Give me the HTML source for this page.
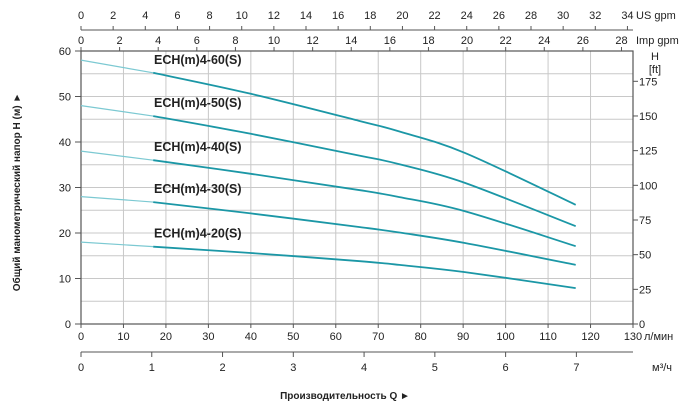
<!DOCTYPE html>
<html><head><meta charset="utf-8"><style>
body{margin:0;background:#fff}
svg{display:block;font-family:"Liberation Sans",sans-serif}
</style></head><body>
<svg id="c" width="700" height="410" viewBox="0 0 700 410"></svg>
<script>
const flows=[0,17,40,65.7,75,90.4,116.5];
const series=["ECH(m)4-60(S)","ECH(m)4-50(S)","ECH(m)4-40(S)","ECH(m)4-30(S)","ECH(m)4-20(S)"];
const heads60=[58,55.2,50.6,44.6,42.3,37.6,26.2];
const heads50=[48,45.7,41.8,37.0,35.1,31.0,21.5];
const heads40=[38,36,33.0,29.4,27.9,24.8,17.1];
const heads30=[28,26.8,24.3,21.3,20.1,17.8,13];
const heads20=[18,17,15.6,13.8,13.0,11.4,7.9];
const allHeads=[heads60,heads50,heads40,heads30,heads20];
const lpmTicks=[0,10,20,30,40,50,60,70,80,90,100,110,120,130];
const m3Ticks=[0,1,2,3,4,5,6,7];
const usTicks=[0,2,4,6,8,10,12,14,16,18,20,22,24,26,28,30,32,34];
const impTicks=[0,2,4,6,8,10,12,14,16,18,20,22,24,26,28];
const hTicks=[0,10,20,30,40,50,60];
const ftTicks=[0,25,50,75,100,125,150,175];

const X0=81,X1=633,Y0=324,Y1=51;
const xs=q=>X0+q*(X1-X0)/130;
const ys=h=>Y0-h*(Y0-Y1)/60;
const svg=document.getElementById('c');
const NS='http://www.w3.org/2000/svg';
function mk(t,a,txt){const e=document.createElementNS(NS,t);for(const k in a)e.setAttribute(k,a[k]);if(txt!=null)e.textContent=txt;svg.appendChild(e);return e;}
function txt(x,y,s,anchor,size,name,weight){const e=mk('text',{x:x,y:y,'text-anchor':anchor||'middle','font-size':size||11,fill:'#222','font-weight':weight||'normal'},s);

return e;}

for(let h=0;h<=60;h+=5){const l=mk('line',{x1:X0,x2:X1,y1:ys(h),y2:ys(h),stroke:'#c8c8c8','stroke-width':1});

}
lpmTicks.forEach(q=>{const l=mk('line',{x1:xs(q),x2:xs(q),y1:Y1,y2:Y0,stroke:'#c8c8c8','stroke-width':1});

});
const fr=mk('rect',{x:X0,y:Y1,width:X1-X0,height:Y0-Y1,fill:'none',stroke:'#555','stroke-width':1.2});



hTicks.forEach(h=>{mk('line',{x1:X0-6,x2:X0,y1:ys(h),y2:ys(h),stroke:'#555'});txt(X0-10,ys(h)+4,h,'end',11,'y-tick-label');});
ftTicks.forEach(f=>{const y=ys(f*0.3048);mk('line',{x1:X1,x2:X1+5,y1:y,y2:y,stroke:'#555'});txt(X1+6,y+4,f,'start',11,'ft-tick-label');});
txt(655,60,'H','middle',11,'ft-axis-title');txt(655,73,'[ft]','middle',11,'ft-axis-unit');
lpmTicks.forEach(q=>{mk('line',{x1:xs(q),x2:xs(q),y1:Y0,y2:Y0+4,stroke:'#555'});txt(xs(q),Y0+16,q,'middle',11,'lpm-tick-label');});
txt(644,340,'л/мин','start',11,'lpm-unit');
mk('line',{x1:X0,x2:X1,y1:352,y2:352,stroke:'#555'});
m3Ticks.forEach(m=>{const x=xs(m*1000/60);mk('line',{x1:x,x2:x,y1:352,y2:357,stroke:'#555'});txt(x,371,m,'middle',11,'m3h-tick-label');});
txt(652,371,'м³/ч','start',11,'m3h-unit');
mk('line',{x1:X0,x2:X1,y1:30,y2:30,stroke:'#555'});
usTicks.forEach(g=>{const x=xs(g*3.785);mk('line',{x1:x,x2:x,y1:26,y2:30,stroke:'#555'});txt(x,19,g,'middle',11,'usgpm-tick-label');});
txt(636,19,'US gpm','start',11,'usgpm-unit');
impTicks.forEach(g=>{const x=xs(g*4.546);mk('line',{x1:x,x2:x,y1:Y1-4,y2:Y1,stroke:'#555'});txt(x,44,g,'middle',11,'impgpm-tick-label');});
txt(636,44,'Imp gpm','start',11,'impgpm-unit');

function smooth(pts){let d='M'+pts[0][0].toFixed(1)+','+pts[0][1].toFixed(1);
 for(let i=0;i<pts.length-1;i++){const p0=pts[Math.max(0,i-1)],p1=pts[i],p2=pts[i+1],p3=pts[Math.min(pts.length-1,i+2)];
  const c1=[p1[0]+(p2[0]-p0[0])/6,p1[1]+(p2[1]-p0[1])/6],c2=[p2[0]-(p3[0]-p1[0])/6,p2[1]-(p3[1]-p1[1])/6];
  d+='C'+c1.map(v=>v.toFixed(1)).join(',')+' '+c2.map(v=>v.toFixed(1)).join(',')+' '+p2[0].toFixed(1)+','+p2[1].toFixed(1);}
 return d;}
const names=['curve-60','curve-50','curve-40','curve-30','curve-20'];
allHeads.forEach((hs,i)=>{
 const p0=mk('line',{x1:xs(flows[0]),y1:ys(hs[0]),x2:xs(flows[1]),y2:ys(hs[1]),stroke:'#7cc9d2','stroke-width':1.2});
 
 
 const pts=[];for(let k=1;k<flows.length;k++)pts.push([xs(flows[k]),ys(hs[k])]);
 const p=mk('path',{d:smooth(pts),fill:'none',stroke:'#1b97a6','stroke-width':1.8});
 
 
 txt(154,ys(hs[1])-9,series[i],'start',12.5,names[i]+'-label','bold');
});

const yt=mk('text',{x:0,y:0,'font-size':10,'font-weight':'bold',fill:'#222','text-anchor':'middle',transform:'translate(20,192) rotate(-90)'},'Общий манометрический напор H (м) ►');


txt(345,399,'Производительность Q ►','middle',10,'x-axis-title','bold');
</script>
</body></html>
